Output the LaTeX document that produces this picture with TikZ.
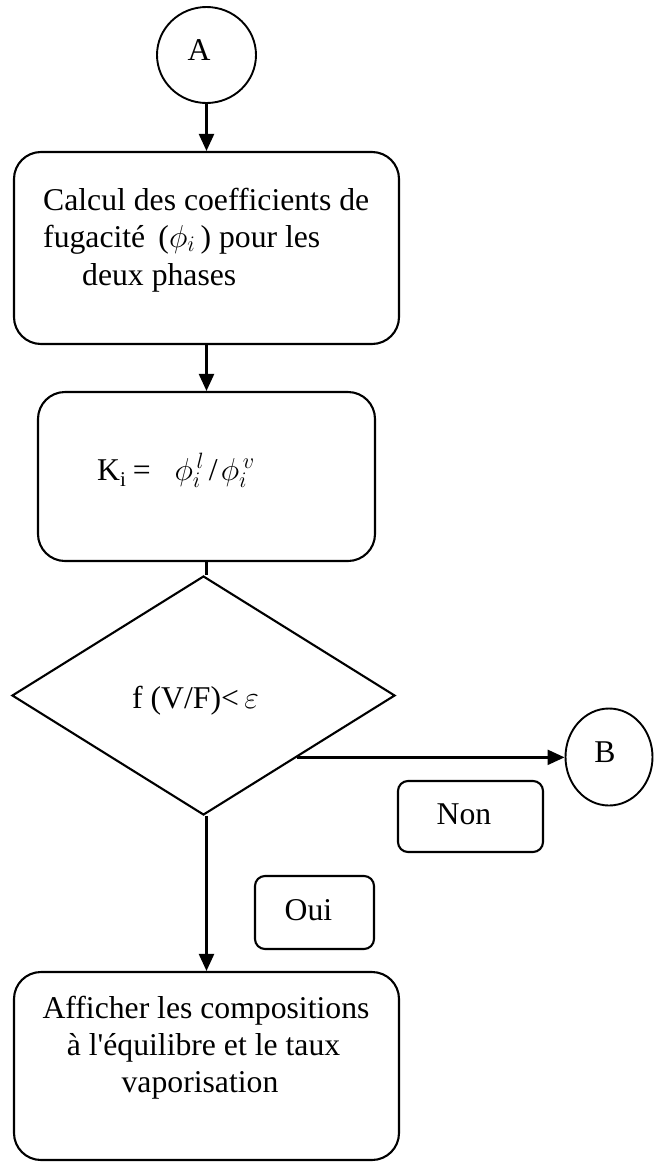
\RequirePackage{fix-cm}
\documentclass[tikz,border=0pt]{standalone}
\usepackage{fontspec}
\setmainfont{Liberation Serif}
% same face without the TeX quote mapping, for a straight apostrophe
\newfontfamily\rawserif{Liberation Serif}[Ligatures=ResetAll]
\usetikzlibrary{shapes.geometric,arrows.meta,calc}

\begin{document}
\begin{tikzpicture}[x=1pt,y=-1pt,
  every node/.style={inner sep=0pt, font=\fontsize{31.7}{37}\selectfont},
  outline/.style={draw, line width=2.1pt},
  procbox/.style={outline, rectangle, rounded corners=27pt},
  tagbox/.style={outline, rectangle, rounded corners=10pt},
  connector/.style={draw, ellipse, line width=1.9pt},
  flow/.style={line width=2.3pt, -{Triangle[length=17pt,width=15pt]}},
  plain/.style={line width=2.3pt},
  txt/.style={anchor=base west},
  ctxt/.style={anchor=base}
]
\useasboundingbox (0,0) rectangle (654,1162);

% entry connector
\node[connector, minimum width=99pt, minimum height=96pt] (A) at (206.5,55) {};
\node[ctxt] (Alabel) at (199,60) {A};

% fugacity coefficients
\node[procbox, minimum width=385pt, minimum height=192pt] (calc) at (206.5,248) {};
\node[txt] (calc1) at (43,210) {Calcul des coefficients de};
\node[txt] (calc2) at (43,247) {fugacité \,($\phi_i$\,) pour les};
\node[txt] (calc3) at (82,285) {deux phases};

% equilibrium ratios
\node[procbox, minimum width=337pt, minimum height=169pt] (kbox) at (206.5,476.5) {};
\node[txt] (kform) at (97,480)
  {K\raisebox{-0.2em}{\fontsize{21}{21}\selectfont i}\hspace{0.22em}=\hspace{0.75em}$\phi_i^{\,l}$\hspace{0.15em}/\hspace{0.1em}$\phi_i^{\,v}$};

% convergence test
\node[outline, diamond, minimum width=383pt, minimum height=239pt] (test) at (203.5,695.5) {};
\node[txt] (testlabel) at (132,708) {f (V/F)<\,$\varepsilon$};

% exit connector
\node[connector, minimum width=87pt, minimum height=97pt] (B) at (609,757) {};
\node[ctxt] (Blabel) at (605,762) {B};

% branch labels
\node[tagbox, minimum width=145pt, minimum height=71pt] (non) at (470.5,816.5) {};
\node[ctxt] (nonlabel) at (464,824) {Non};
\node[tagbox, minimum width=119pt, minimum height=73pt] (oui) at (314.5,912.5) {};
\node[ctxt] (ouilabel) at (308.5,920) {Oui};

% results
\node[procbox, minimum width=385pt, minimum height=188pt] (res) at (206.5,1066) {};
\node[ctxt] (res1) at (206,1018) {Afficher les compositions};
\node[ctxt] (res2) at (203.5,1055) {à l{\rawserif '}équilibre et le taux};
\node[ctxt] (res3) at (200,1092) {vaporisation};

% connectors
\draw[flow] (A.south) -- (calc.north);
\draw[flow] (calc.south) -- (kbox.north);
\draw[plain] (kbox.south) -- (kbox.south |- test.north);
\coordinate (exit) at ($(test.east)!0.513!(test.south)$);
\draw[flow] (exit) -- (exit -| B.west);
\draw[flow] (res.north |- test.south) -- (res.north);
\end{tikzpicture}
\end{document}
